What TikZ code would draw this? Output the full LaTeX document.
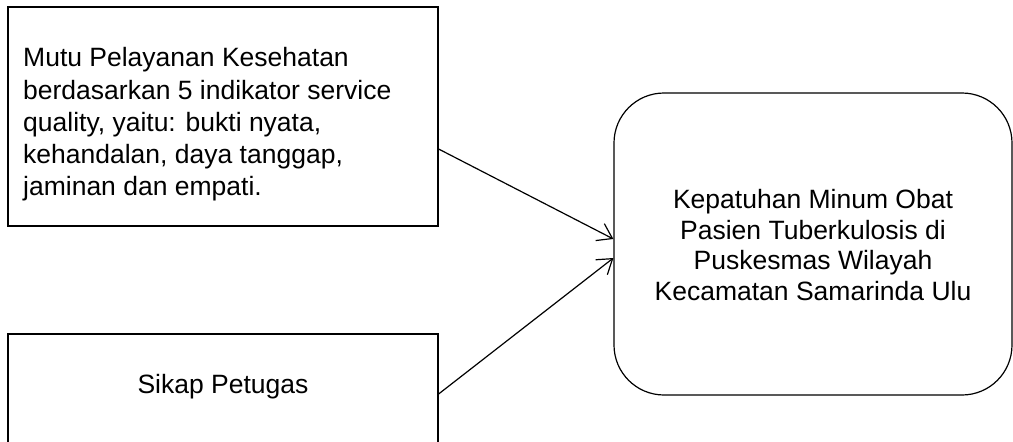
\documentclass[tikz,border=0pt]{standalone}
\usepackage{fontspec}
\setmainfont{Liberation Sans}
\usetikzlibrary{arrows.meta}
\begin{document}
\begin{tikzpicture}[x=1pt,y=-1pt,
  box/.style={draw, line width=1.2pt, inner sep=0pt},
  txt/.style={inner sep=0pt, font=\fontsize{26.5}{32.1}\selectfont},
  arr/.style={line width=1.2pt, -{Straight Barb[length=14pt,width=19pt,line width=1.2pt]}}]
\useasboundingbox (0,0) rectangle (1013,442);
\clip (0,0) rectangle (1013,442);
\node[box, minimum width=430pt, minimum height=219pt] (b1) at (223,116.5) {};
\node[txt, anchor=north west, align=left] (t1) at (23,47.5)
  {Mutu Pelayanan Kesehatan\\berdasarkan 5 indikator service\\quality, yaitu: bukti nyata,\\kehandalan, daya tanggap,\\jaminan dan empati.};
\node[box, minimum width=430pt, minimum height=118pt] (b2) at (223,393) {};
\node[txt, anchor=base] (t2) at (223,393) {Sikap Petugas};
\node[box, rounded corners=50pt, minimum width=398pt, minimum height=302pt] (c) at (813,244) {};
\node[txt, anchor=north, align=center, font=\fontsize{26.5}{30.6}\selectfont] (t3) at (813,189)
  {Kepatuhan Minum Obat\\Pasien Tuberkulosis di\\Puskesmas Wilayah\\Kecamatan Samarinda Ulu};
\draw[arr] ([yshift=-32.5pt]b1.east) -- ([yshift=5pt]c.west);
\draw[arr] ([yshift=-1pt]b2.east) -- ([yshift=-14pt]c.west);
\end{tikzpicture}
\end{document}
